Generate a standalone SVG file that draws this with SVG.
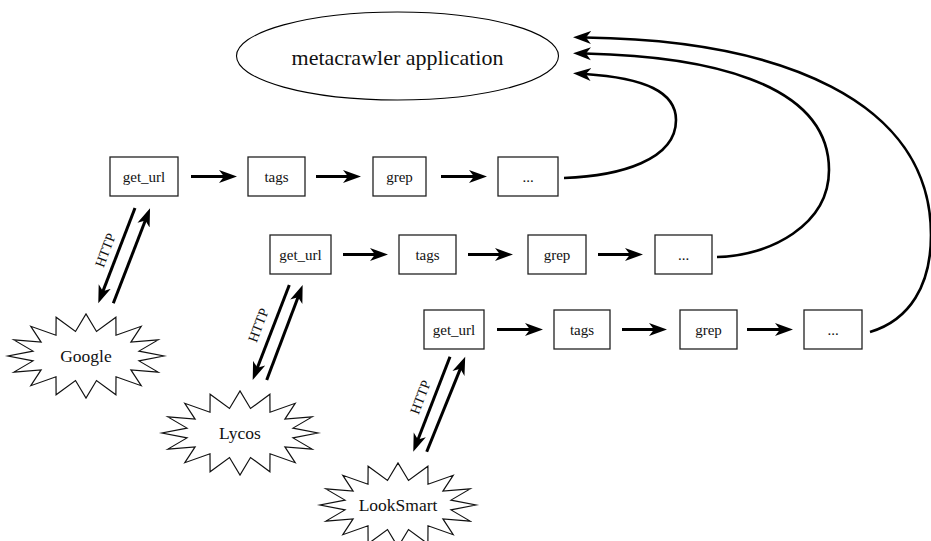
<svg xmlns="http://www.w3.org/2000/svg" width="931" height="541" viewBox="0 0 931 541">
<style>
.box{fill:#fff;stroke:#222;stroke-width:1.3}
.lbl{font-size:15px;text-anchor:middle;fill:#111}
.cl{font-size:17.5px;text-anchor:middle;fill:#111}
.http{font-size:14px;text-anchor:middle;fill:#111}
.star{fill:#fff;stroke:#111;stroke-width:1.2;stroke-linejoin:miter;stroke-miterlimit:10}
.ar{fill:none;stroke:#000;stroke-width:3;marker-end:url(#ah)}
.cv{fill:none;stroke:#000;stroke-width:2.6;marker-end:url(#ah)}
</style>
<defs>
<marker id="ah" markerUnits="userSpaceOnUse" markerWidth="20" markerHeight="16" viewBox="0 -8 20 16" refX="6" refY="0" orient="auto">
<path d="M0,-6.5 L18,0 L0,6.5 L5,0 Z" fill="#000"/>
</marker>
<polygon id="star" class="star" points="78,0 53,4.9 72.1,16.1 44.9,13.9 55.2,29.7 30,20.8 29.9,38.8 10.5,24.5 0,42 -10.5,24.5 -29.9,38.8 -30,20.8 -55.2,29.7 -44.9,13.9 -72.1,16.1 -53,4.9 -78,0 -53,-4.9 -72.1,-16.1 -44.9,-13.9 -55.2,-29.7 -30,-20.8 -29.9,-38.8 -10.5,-24.5 0,-42 10.5,-24.5 29.9,-38.8 30,-20.8 55.2,-29.7 44.9,-13.9 72.1,-16.1 53,-4.9"/>
</defs>
<rect width="931" height="541" fill="#fff"/>
<g font-family="Liberation Serif, Times New Roman, serif">

<g id="app">
<ellipse cx="397.5" cy="56" rx="161" ry="44" fill="#fff" stroke="#000" stroke-width="1.1"/>
<text x="397.5" y="65" font-size="22" text-anchor="middle" fill="#111">metacrawler application</text>
</g>

<!-- row 1 -->
<g id="r1_get_url"><rect class="box" x="110" y="157" width="68" height="39"/><text class="lbl" x="144" y="181.5">get_url</text></g>
<g id="r1_tags"><rect class="box" x="248" y="157" width="57" height="39"/><text class="lbl" x="276.5" y="181.5">tags</text></g>
<g id="r1_grep"><rect class="box" x="373" y="157" width="53" height="39"/><text class="lbl" x="399.5" y="181.5">grep</text></g>
<g id="r1_more"><rect class="box" x="498" y="157" width="60" height="39"/><text class="lbl" x="528" y="181.5">...</text></g>

<!-- row 2 -->
<g id="r2_get_url"><rect class="box" x="270" y="235" width="61" height="39"/><text class="lbl" x="300.5" y="259.5">get_url</text></g>
<g id="r2_tags"><rect class="box" x="399" y="235" width="57" height="39"/><text class="lbl" x="427.5" y="259.5">tags</text></g>
<g id="r2_grep"><rect class="box" x="528" y="235" width="58" height="39"/><text class="lbl" x="557" y="259.5">grep</text></g>
<g id="r2_more"><rect class="box" x="655" y="235" width="57" height="39"/><text class="lbl" x="683.5" y="259.5">...</text></g>

<!-- row 3 -->
<g id="r3_get_url"><rect class="box" x="424" y="310" width="60" height="39"/><text class="lbl" x="454" y="334.5">get_url</text></g>
<g id="r3_tags"><rect class="box" x="554" y="310" width="56" height="39"/><text class="lbl" x="582" y="334.5">tags</text></g>
<g id="r3_grep"><rect class="box" x="680" y="310" width="57" height="39"/><text class="lbl" x="708.5" y="334.5">grep</text></g>
<g id="r3_more"><rect class="box" x="804" y="310" width="58" height="39"/><text class="lbl" x="833" y="334.5">...</text></g>

<!-- engines -->
<g id="google"><use href="#star" x="86" y="356"/><text class="cl" x="86" y="362">Google</text></g>
<g id="lycos"><use href="#star" x="240" y="433"/><text class="cl" x="240" y="439">Lycos</text></g>
<g id="looksmart"><use href="#star" x="398" y="505"/><text class="cl" x="398" y="511">LookSmart</text></g>

<g id="connectors">
<path class="ar" d="M191,176.5 H225"/>
<path class="ar" d="M316,176.5 H349"/>
<path class="ar" d="M441,176.5 H475"/>
<path class="ar" d="M343,254.5 H376"/>
<path class="ar" d="M468,254.5 H501"/>
<path class="ar" d="M598,254.5 H631"/>
<path class="ar" d="M497,329.5 H531"/>
<path class="ar" d="M622,329.5 H655"/>
<path class="ar" d="M747,329.5 H781"/>

<path class="ar" d="M135,208 L102.6,292.1"/>
<path class="ar" d="M113.3,303.3 L145.7,219.5"/>
<path class="ar" d="M289.3,285 L257,368.8"/>
<path class="ar" d="M266.7,380 L298.4,296.2"/>
<path class="ar" d="M450,356.7 L417.6,440.5"/>
<path class="ar" d="M426.7,451.7 L460.7,367.9"/>

<text class="http" transform="translate(105,250) rotate(-69)" y="5">HTTP</text>
<text class="http" transform="translate(258,325) rotate(-69)" y="5">HTTP</text>
<text class="http" transform="translate(420,397) rotate(-69)" y="5">HTTP</text>

<path class="cv" d="M564,178 C620,176 676,160 676,120 C676,92 645,78 585,74"/>
<path class="cv" d="M717,257 C770,256 829,225 829,170 C829,80 700,56 585,53.5"/>
<path class="cv" d="M870,332 C910,320 931,285 931,235 C931,100 780,40 585,37.5"/>
</g>
</g>
</svg>
